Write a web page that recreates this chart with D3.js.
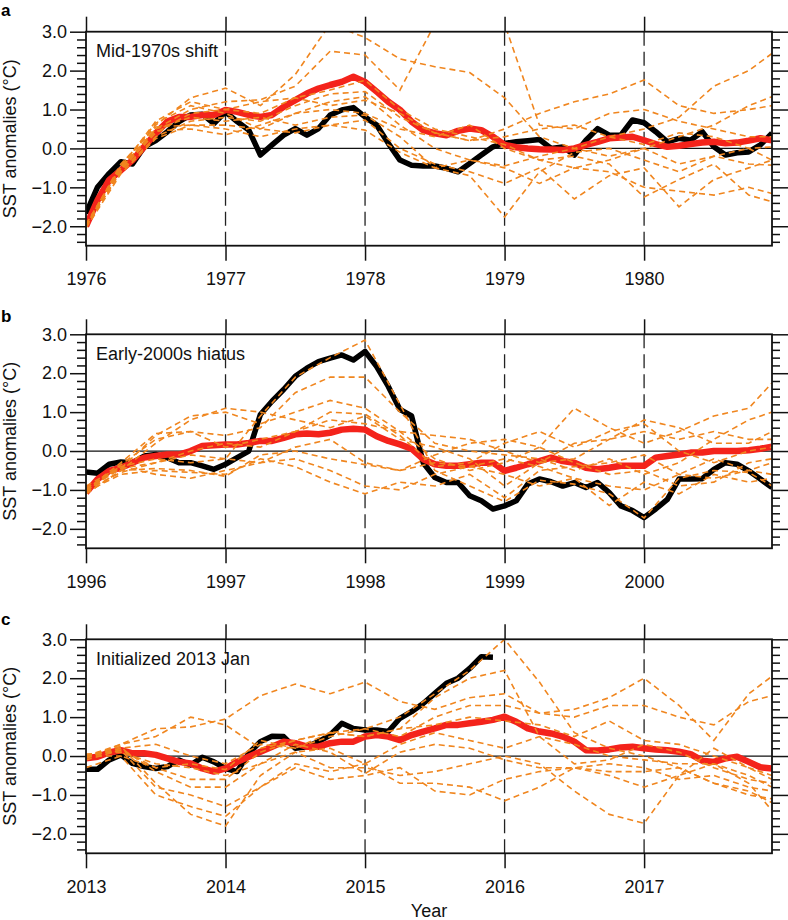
<!DOCTYPE html>
<html><head><meta charset="utf-8">
<script src="https://cdn.jsdelivr.net/npm/d3@7"></script>
<style>body{margin:0;background:#fff}text{font-family:"Liberation Sans",Arial,Helvetica,sans-serif}</style>
</head><body><svg id="chart" width="788" height="920"></svg>
<script>
// ---------- DATA ----------
const months = d3.range(60);
const ensMonths = [0,3,6,9,12,15,18,21,24,27,30,33,36,39,42,45,48,51,54,57,59];
const yMajor = [-2,-1,0,1,2,3];
const yMinor = [-2.4,-2.2,-1.8,-1.6,-1.4,-1.2,-0.8,-0.6,-0.4,-0.2,0.2,0.4,0.6,0.8,1.2,1.4,1.6,1.8,2.2,2.4,2.6,2.8];
const yearTickMonths = [0,12,24,36,48];

const yearsA = ["1976","1977","1978","1979","1980"];
const yearsB = ["1996","1997","1998","1999","2000"];
const yearsC = ["2013","2014","2015","2016","2017"];
const titles = ["Mid-1970s shift","Early-2000s hiatus","Initialized 2013 Jan"];
const panelLetters = ["a","b","c"];

const obsA = [-1.67,-0.99,-0.64,-0.34,-0.4,0.04,0.2,0.43,0.69,0.86,0.88,0.64,0.94,0.69,0.47,-0.17,0.09,0.34,0.51,0.34,0.51,0.86,0.99,1.05,0.81,0.6,0.13,-0.3,-0.43,-0.45,-0.45,-0.51,-0.6,-0.39,-0.17,0.04,0.13,0.17,0.2,0.23,0.0,0.04,-0.17,0.21,0.51,0.34,0.34,0.73,0.66,0.43,0.17,0.26,0.21,0.43,0.04,-0.17,-0.11,-0.09,0.09,0.39];
const meanA = [-2.0,-1.33,-0.81,-0.56,-0.3,0.04,0.39,0.69,0.81,0.81,0.86,0.86,0.99,0.94,0.86,0.81,0.86,1.07,1.24,1.41,1.54,1.63,1.71,1.84,1.71,1.46,1.2,0.99,0.69,0.47,0.39,0.34,0.45,0.51,0.47,0.3,0.09,0.03,0.0,-0.02,-0.03,-0.04,0.0,0.09,0.17,0.26,0.28,0.3,0.21,0.11,0.04,0.07,0.11,0.15,0.17,0.13,0.15,0.2,0.26,0.21];
const ensA = [
 [-2.0,-0.45,0.6,1.3,1.55,1.1,1.9,3.2,2.85,2.3,2.1,1.95,1.3,0.3,0.0,-0.2,0.0,0.3,0.6,1.1,1.33],
 [-1.95,-0.5,0.5,1.0,1.2,1.25,1.6,2.5,2.4,1.5,3.2,3.3,3.2,0.6,0.5,0.9,1.0,0.7,0.5,0.3,0.3],
 [-2.0,-0.55,0.4,0.9,1.0,0.9,1.3,1.5,1.75,1.0,0.5,0.3,0.1,-0.3,-0.5,-0.3,0.0,-0.4,-0.2,0.0,-0.3],
 [-2.0,-0.6,0.3,0.7,0.8,0.7,1.1,1.4,1.46,0.8,0.4,0.2,0.5,0.9,1.2,1.4,1.76,1.1,0.9,1.0,1.1],
 [-2.05,-0.65,0.25,0.6,0.6,0.5,0.9,1.2,1.33,0.6,0.0,-0.3,-0.45,-0.2,0.0,0.3,0.5,0.8,1.6,2.0,2.44],
 [-2.0,-0.5,0.5,0.8,0.7,0.8,0.6,0.8,0.86,0.3,-0.5,-0.7,-1.76,-0.6,-0.1,0.0,-0.3,-0.6,-0.2,-0.4,-0.43],
 [-1.95,-0.45,0.65,1.1,0.9,0.5,0.4,0.6,0.73,0.0,-0.4,-0.6,-0.9,-0.5,-1.3,-0.7,-0.5,-1.5,-0.8,-0.5,-0.3],
 [-2.0,-0.4,0.55,0.6,0.5,0.3,0.5,0.6,0.47,-0.1,-0.5,-0.3,-0.5,-0.9,-0.5,-0.6,-1.0,-1.1,-1.2,-1.0,-1.16],
 [-2.0,-0.55,0.45,0.5,0.35,0.6,0.9,1.0,0.9,0.5,0.3,0.6,0.0,-0.3,-0.2,-0.4,-1.25,-0.8,-0.4,-1.2,-1.37],
 [-2.0,-0.5,0.7,1.2,1.0,1.2,1.3,1.1,1.24,0.9,0.4,0.2,0.3,0.5,0.6,0.3,0.1,0.4,0.3,0.0,0.04]
];

const obsB = [-0.54,-0.57,-0.34,-0.28,-0.3,-0.13,-0.09,-0.17,-0.3,-0.3,-0.38,-0.47,-0.34,-0.17,0.0,0.94,1.28,1.58,1.92,2.13,2.3,2.39,2.47,2.34,2.56,2.17,1.66,1.07,0.9,-0.3,-0.68,-0.81,-0.81,-1.15,-1.28,-1.49,-1.41,-1.28,-0.85,-0.72,-0.79,-0.9,-0.81,-0.94,-0.81,-1.07,-1.41,-1.53,-1.71,-1.49,-1.24,-0.72,-0.72,-0.71,-0.47,-0.3,-0.34,-0.51,-0.72,-0.94];
const meanB = [-1.07,-0.72,-0.51,-0.43,-0.3,-0.17,-0.13,-0.09,-0.09,0.0,0.13,0.15,0.17,0.17,0.21,0.26,0.26,0.34,0.43,0.45,0.43,0.47,0.55,0.57,0.55,0.38,0.26,0.17,0.06,-0.21,-0.34,-0.38,-0.38,-0.34,-0.3,-0.3,-0.51,-0.43,-0.34,-0.26,-0.17,-0.26,-0.3,-0.43,-0.47,-0.43,-0.38,-0.38,-0.38,-0.17,-0.13,-0.09,-0.04,-0.04,0.0,0.0,0.0,0.02,0.06,0.11];
const ensB = [
 [-1.0,-0.4,-0.2,-0.3,-0.2,0.9,1.9,2.4,2.85,1.2,-0.5,-0.9,-1.3,-0.75,-0.85,-1.1,-1.72,-0.7,-0.5,-0.55,-0.9],
 [-1.05,-0.35,0.3,0.5,0.4,0.6,1.5,1.9,1.9,1.0,0.2,0.0,-0.1,-0.2,-0.5,-0.2,-0.6,-0.3,0.3,0.8,1.0],
 [-0.95,-0.45,0.4,0.9,1.0,0.7,1.0,1.3,1.1,0.5,-0.2,-0.5,-0.3,0.1,1.1,0.6,0.2,0.5,0.9,1.1,1.75],
 [-1.1,-0.5,0.2,0.8,1.1,1.0,0.8,0.6,0.9,0.3,0.1,-0.2,-0.9,-0.3,-0.2,0.3,0.8,0.6,0.2,0.2,0.5],
 [-1.0,-0.3,0.45,0.5,0.1,0.3,0.5,1.0,0.95,0.4,-0.4,-0.3,0.2,0.5,0.1,0.5,0.7,0.0,-0.3,0.0,0.1],
 [-1.0,-0.55,-0.3,-0.1,-0.2,-0.3,-0.2,-0.5,-0.9,-1.0,-0.6,-0.4,-0.6,-0.9,-0.7,-0.9,-1.0,-0.6,-0.2,-0.5,-0.6],
 [-1.05,-0.6,-0.5,-0.55,-0.6,-0.2,-0.4,-0.8,-1.1,-0.8,-0.9,-0.6,-1.2,-0.5,-0.4,-0.3,-0.1,-0.6,-0.7,-0.5,-0.3],
 [-0.9,-0.4,-0.6,-0.7,-0.5,-0.3,0.1,0.3,-0.3,-0.5,-0.1,0.2,0.3,0.1,-0.3,-0.6,-0.5,-0.9,-0.8,-0.3,-0.2],
 [-1.0,-0.45,-0.3,0.0,0.2,0.1,0.5,0.8,0.7,0.5,0.4,0.3,0.0,-0.3,0.2,0.3,0.5,0.3,0.5,0.3,0.3],
 [-1.1,-0.5,-0.45,-0.5,-0.65,-0.1,0.0,-0.2,-0.35,-0.5,-0.3,-0.4,-0.2,-0.4,-0.7,-1.4,-0.8,-1.1,-0.6,-0.8,-0.7]
];

const obsC = [-0.34,-0.34,-0.1,0.03,-0.19,-0.27,-0.32,-0.27,-0.1,-0.23,-0.03,-0.15,-0.32,-0.4,0.07,0.37,0.51,0.5,0.2,0.24,0.37,0.54,0.84,0.71,0.67,0.67,0.63,0.97,1.14,1.35,1.61,1.87,2.0,2.25,2.55,2.54];
const meanC = [-0.06,-0.02,0.09,0.15,0.07,0.07,0.03,-0.06,-0.15,-0.19,-0.32,-0.4,-0.32,-0.15,-0.02,0.11,0.24,0.37,0.33,0.24,0.24,0.33,0.37,0.37,0.5,0.54,0.5,0.41,0.54,0.63,0.71,0.8,0.8,0.84,0.88,0.93,1.01,0.88,0.71,0.63,0.58,0.5,0.37,0.15,0.14,0.17,0.22,0.24,0.2,0.17,0.15,0.11,0.05,-0.12,-0.15,-0.06,-0.02,-0.15,-0.29,-0.32];
const ensC = [
 [-0.05,0.3,0.7,0.75,0.95,1.55,1.85,1.6,1.9,1.4,1.2,1.5,1.6,1.1,1.2,1.5,2.0,1.3,0.4,1.6,2.05],
 [-0.3,0.0,-0.3,-0.2,-0.35,0.4,0.2,0.5,0.7,1.0,1.6,2.2,3.0,1.9,0.6,0.2,0.0,-0.3,-0.7,-0.9,-1.2],
 [-0.05,0.2,0.3,0.0,-0.2,0.3,0.2,0.6,0.7,0.5,1.0,1.3,1.3,1.1,1.0,1.3,1.3,1.0,0.8,1.4,1.55],
 [0.0,0.15,-0.3,-0.6,-0.6,0.1,0.4,0.6,0.5,0.7,0.8,1.0,0.9,0.8,0.5,0.9,0.4,0.3,0.0,-0.3,-0.6],
 [0.05,0.1,-0.2,-0.3,-0.5,-0.2,0.1,0.2,-0.2,0.3,0.6,0.4,0.2,0.5,0.3,0.0,-0.1,-0.2,-0.2,-0.5,-0.8],
 [0.0,0.2,-0.4,-0.8,-0.8,-0.2,0.3,0.1,-0.45,0.1,0.3,0.2,-0.1,-0.3,-0.3,-0.4,-0.4,-0.3,-0.7,-1.0,-1.1],
 [-0.1,0.15,-0.8,-1.0,-1.3,-0.8,-0.2,-0.4,-0.2,-0.7,-0.7,-0.8,-1.15,-0.8,-0.3,-0.2,-0.3,-0.6,-0.5,-0.8,-0.9],
 [0.0,0.0,-1.0,-1.3,-1.55,-0.8,-0.3,-0.6,-0.5,-0.3,-0.9,-1.0,-0.6,-0.4,-0.3,-0.5,-0.8,-0.5,-0.2,-0.7,-1.4],
 [0.0,0.25,-0.7,-1.5,-1.8,-0.5,0.1,-0.3,-0.3,-0.5,-0.4,-0.2,0.0,-0.2,-0.9,-1.5,-1.73,-0.5,0.2,-0.3,-0.5],
 [0.0,0.3,0.5,1.0,0.8,0.2,0.4,0.6,0.5,0.7,1.5,2.0,2.2,0.5,-0.2,-0.1,0.3,0.1,-0.3,-0.6,-0.7]
];

// ---------- LAYOUT ----------
const svg = d3.select("#chart");
const left = 86, right = 772, H = 214;
const panelTops = [31.7, 334.3, 639.3];
const letterY = [16, 322, 625];
const panels = [
  {years: yearsA, obs: obsA, mean: meanA, ens: ensA},
  {years: yearsB, obs: obsB, mean: meanB, ens: ensB},
  {years: yearsC, obs: obsC, mean: meanC, ens: ensC}
];
const x = d3.scaleLinear().domain([0, 59]).range([left, right]);
const fmt = d3.format(".1f");

panels.forEach((p, i) => {
  const top = panelTops[i], bottom = top + H;
  const y = d3.scaleLinear().domain([-2.5, 3]).range([bottom, top]);
  const g = svg.append("g");

  const clipId = "clip" + i;
  svg.append("clipPath").attr("id", clipId).append("rect")
    .attr("x", left).attr("y", top).attr("width", right - left).attr("height", H);

  // dashed year lines inside
  g.selectAll(".vdash").data(yearTickMonths.slice(1)).join("line")
    .attr("x1", d => x(d)).attr("x2", d => x(d)).attr("y1", top).attr("y2", bottom)
    .attr("stroke", "#222").attr("stroke-width", 1.3).attr("stroke-dasharray", "14,6");

  // zero line
  g.append("line").attr("x1", left).attr("x2", right).attr("y1", y(0)).attr("y2", y(0))
    .attr("stroke", "#111").attr("stroke-width", 1.2);

  const lines = g.append("g").attr("clip-path", `url(#${clipId})`);
  const lineMonthly = d3.line().x((d, k) => x(months[k])).y(d => y(d));
  const lineEns = d3.line().x((d, k) => x(ensMonths[k])).y(d => y(d));

  lines.append("path").datum(p.obs).attr("d", lineMonthly)
    .attr("fill", "none").attr("stroke", "#000").attr("stroke-width", 5.5)
    .attr("stroke-linejoin", "round");
  lines.append("path").datum(p.mean).attr("d", lineMonthly)
    .attr("fill", "none").attr("stroke", "#f4231b").attr("stroke-width", 6.5)
    .attr("stroke-linejoin", "round");
  lines.selectAll(".ens").data(p.ens).join("path").attr("d", lineEns)
    .attr("fill", "none").attr("stroke", "#f0861f").attr("stroke-width", 1.6)
    .attr("stroke-dasharray", "6,4");

  // axes
  const axStyle = sel => {
    sel.select(".domain").remove();
    sel.selectAll("line").attr("stroke", "#111").attr("stroke-width", 1.5);
    sel.selectAll("text").attr("font-size", 18).attr("fill", "#111")
      .attr("font-family", '"Liberation Sans", Arial, Helvetica, sans-serif');
  };
  g.append("g").attr("transform", `translate(${left},0)`)
    .call(d3.axisLeft(y).tickValues(yMajor).tickSize(16).tickPadding(3).tickFormat(fmt)).call(axStyle);
  g.append("g").attr("transform", `translate(${left},0)`)
    .call(d3.axisLeft(y).tickValues(yMinor).tickSize(9).tickFormat("")).call(axStyle);
  g.append("g").attr("transform", `translate(${right},0)`)
    .call(d3.axisRight(y).tickValues(yMajor).tickSize(16).tickFormat("")).call(axStyle);
  g.append("g").attr("transform", `translate(${right},0)`)
    .call(d3.axisRight(y).tickValues(yMinor).tickSize(8).tickFormat("")).call(axStyle);
  g.append("g").attr("transform", `translate(0,${bottom})`)
    .call(d3.axisBottom(x).tickValues(yearTickMonths).tickSize(15).tickPadding(11.5)
      .tickFormat((d, k) => p.years[k])).call(axStyle);
  g.append("g").attr("transform", `translate(0,${top})`)
    .call(d3.axisTop(x).tickValues(yearTickMonths).tickSize(15).tickFormat("")).call(axStyle);

  // frame
  g.append("rect").attr("x", left).attr("y", top).attr("width", right - left).attr("height", H)
    .attr("fill", "none").attr("stroke", "#111").attr("stroke-width", 1.8);

  // y label
  g.append("text").attr("transform", `translate(16,${(top + bottom) / 2}) rotate(-90)`)
    .attr("text-anchor", "middle").attr("font-size", 18).attr("fill", "#111")
    .text("SST anomalies (°C)");

  // panel title
  g.append("text").attr("x", 96).attr("y", top + 25.5).attr("font-size", 18).attr("fill", "#111")
    .text(titles[i]);

  // panel letter
  g.append("text").attr("x", 1).attr("y", letterY[i]).attr("font-size", 17).attr("font-weight", "bold")
    .attr("fill", "#000").text(panelLetters[i]);
});

svg.append("text").attr("x", (left + right) / 2).attr("y", 917).attr("text-anchor", "middle")
  .attr("font-size", 18).attr("fill", "#111").text("Year");
</script></body></html>
